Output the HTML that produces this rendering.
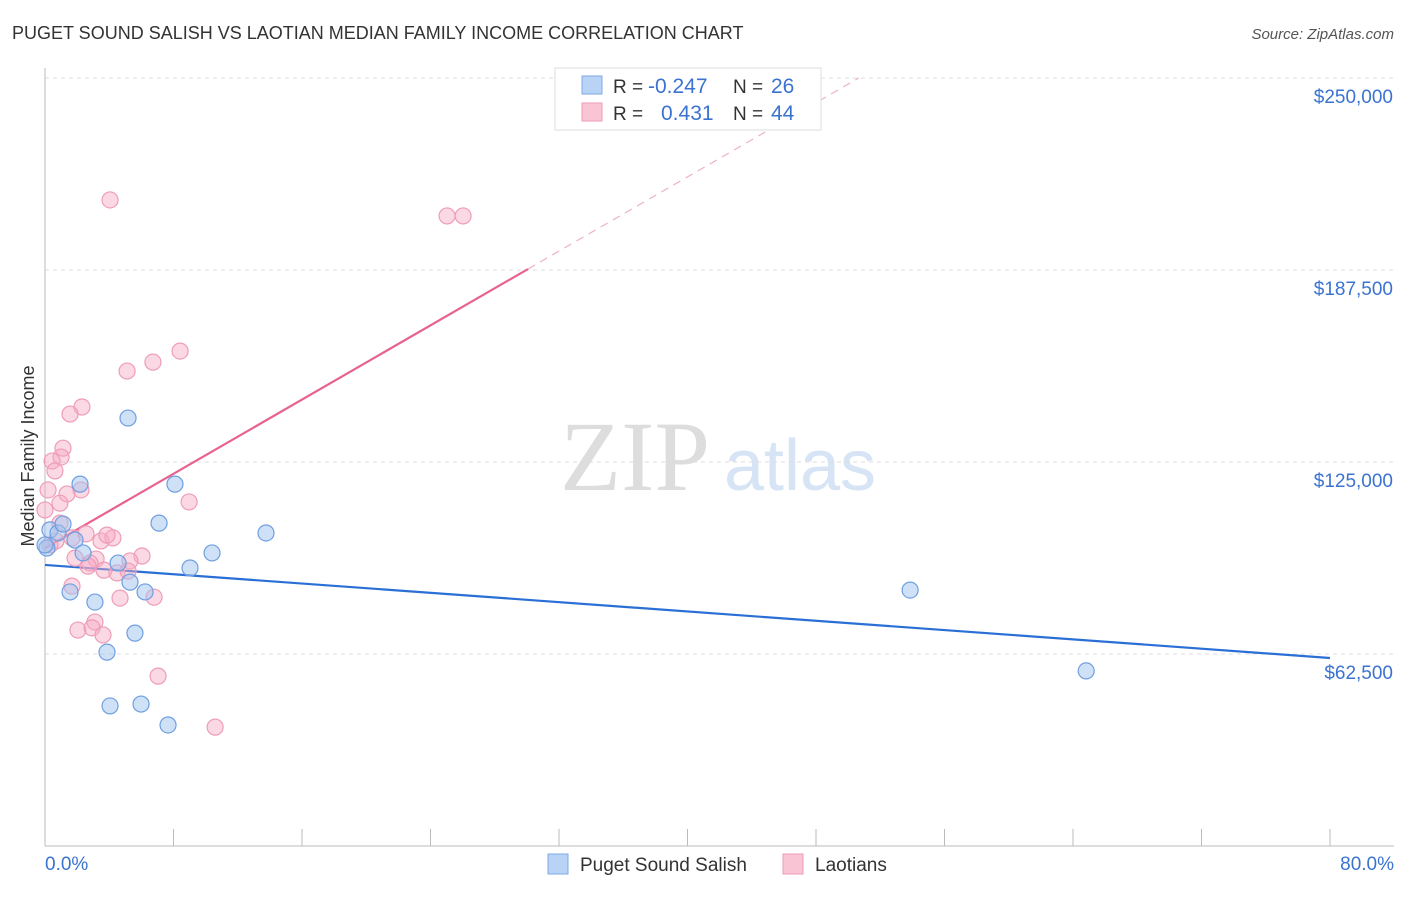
<!DOCTYPE html>
<html><head><meta charset="utf-8">
<style>
body{margin:0;background:#fff;font-family:"Liberation Sans",sans-serif;}
svg text{font-family:"Liberation Sans",sans-serif;}
</style></head>
<body>
<svg id="chart" width="1406" height="892" xmlns="http://www.w3.org/2000/svg">
<text x="12" y="39" font-size="18" fill="#333">PUGET SOUND SALISH VS LAOTIAN MEDIAN FAMILY INCOME CORRELATION CHART</text>
<text x="1394" y="39" font-size="15" fill="#555" text-anchor="end" font-style="italic">Source: ZipAtlas.com</text>
<text transform="translate(34,456) rotate(-90)" font-size="18" fill="#333" text-anchor="middle">Median Family Income</text>
<g>
<text x="635" y="490" font-size="100" fill="#ddd" style="font-family:'Liberation Serif',serif" text-anchor="middle">ZIP</text>
<text x="800" y="490" font-size="72" fill="#d6e4f5" text-anchor="middle">atlas</text>
</g>
<g id="grid"></g><g id="axes"></g><g id="lines"></g><g id="pts"></g>
<g>
<rect x="555" y="68" width="266" height="62" fill="#fff" stroke="#ddd"/>
<rect x="582" y="76" width="20" height="18" fill="#b8d3f5" stroke="#7ea9e6"/>
<rect x="582" y="103" width="20" height="18" fill="#f9c5d5" stroke="#ee9ab4"/>
<text x="613" y="93" font-size="19" fill="#333">R =</text><text x="648" y="93" font-size="21" fill="#3b73d0">-0.247</text>
<text x="733" y="93" font-size="19" fill="#333">N =</text><text x="771" y="93" font-size="21" fill="#3b73d0">26</text>
<text x="613" y="120" font-size="19" fill="#333">R =</text><text x="661" y="120" font-size="21" fill="#3b73d0">0.431</text>
<text x="733" y="120" font-size="19" fill="#333">N =</text><text x="771" y="120" font-size="21" fill="#3b73d0">44</text>
</g>
<g>
<rect x="548" y="854" width="20" height="20" fill="#b8d3f5" stroke="#7ea9e6"/>
<text x="580" y="871" font-size="19" fill="#333">Puget Sound Salish</text>
<rect x="783" y="854" width="20" height="20" fill="#f9c5d5" stroke="#ee9ab4"/>
<text x="815" y="871" font-size="19" fill="#333">Laotians</text>
</g>
</svg>
<script>
const yTicks=[62500,125000,187500,250000];
const yTickLabels=["$62,500","$125,000","$187,500","$250,000"];
const blueX=[0.12,0.31,0.81,1.12,1.56,1.87,2.18,2.37,3.11,3.86,4.05,4.55,5.17,5.29,5.60,5.98,6.23,7.10,7.66,8.09,9.03,10.40,13.76,53.86,64.82,0];
const blueY=[97.0,102.9,101.9,104.8,82.7,99.6,117.8,95.4,79.4,63.1,45.6,92.1,139.3,85.9,69.3,46.2,82.7,105.1,39.4,117.8,90.5,95.4,101.9,83.3,57.0,98.0];
const pinkX=[4.05,25.03,26.03,8.41,6.72,5.11,2.30,1.56,1.12,1.00,0.44,0.62,0.19,2.24,1.37,0.93,8.97,1.68,2.55,3.49,0.68,4.23,3.86,6.04,5.29,3.18,2.80,2.68,3.67,4.48,5.17,1.68,4.67,6.79,2.05,3.11,2.93,3.61,7.04,10.59,0,0.31,1.87,0.93];
const pinkY=[210.3,205.1,205.1,161.1,157.5,154.6,142.9,140.6,129.5,126.6,125.3,122.1,115.9,115.9,114.6,111.6,112.0,100.3,101.6,99.3,99.3,100.3,101.2,94.4,92.8,93.4,92.1,91.1,89.8,88.9,89.5,84.6,80.7,81.0,70.3,72.9,71.0,68.7,55.3,38.7,109.4,98.0,93.7,105.1];
const blueTrend=[91.5,61.2];
const pinkTrend=[97.0,3.02];
const pinkSolidEnd=30.07;
const NS="http://www.w3.org/2000/svg";
const X=p=>45+p*(1285/80);
const Y=v=>846-v/62500*192;
const Yk=k=>Y(k*1000);
function mk(tag,attrs,parent){const e=document.createElementNS(NS,tag);for(const k in attrs)e.setAttribute(k,attrs[k]);document.getElementById(parent).appendChild(e);return e;}
yTicks.forEach((t,i)=>{
  const l=mk('line',{x1:45,x2:1394,y1:Y(t),y2:Y(t),stroke:'#ddd','stroke-dasharray':'4,4'},'grid');
  
  
  const tx=mk('text',{x:1393,y:Y(t)+25,'font-size':19,fill:'#3b73d0','text-anchor':'end'},'grid');
  tx.textContent=yTickLabels[i];
  
  
});
const ax=mk('line',{x1:45,x2:45,y1:68,y2:846,stroke:'#bbb'},'axes');


const bx=mk('line',{x1:45,x2:1394,y1:846,y2:846,stroke:'#bbb'},'axes');


for(let i=0;i<=10;i++){
  const t=mk('line',{x1:X(i*8),x2:X(i*8),y1:829,y2:846,stroke:'#bbb'},'axes');
  
  
}
const xl=mk('text',{x:45,y:870,'font-size':19,fill:'#3b73d0'},'axes');xl.textContent='0.0%';


const xr=mk('text',{x:1394,y:870,'font-size':19,fill:'#3b73d0','text-anchor':'end'},'axes');xr.textContent='80.0%';


const bl=mk('line',{x1:X(0),x2:X(80),y1:Yk(blueTrend[0]),y2:Yk(blueTrend[1]),stroke:'#2a6fd6','stroke-width':2.2},'lines');


const pe=(250-pinkTrend[0])/pinkTrend[1];
const pl=mk('line',{x1:X(0),x2:X(pinkSolidEnd),y1:Yk(pinkTrend[0]),y2:Yk(pinkTrend[0]+pinkTrend[1]*pinkSolidEnd),stroke:'#e8628f','stroke-width':2.2},'lines');


const pd=mk('line',{x1:X(pinkSolidEnd),x2:X(pe),y1:Yk(pinkTrend[0]+pinkTrend[1]*pinkSolidEnd),y2:Yk(250),stroke:'#eeb0c4','stroke-width':1.2,'stroke-dasharray':'8,6'},'lines');


pinkX.forEach((x,i)=>{
  const c=mk('circle',{cx:X(x),cy:Yk(pinkY[i]),r:8,fill:'rgba(246,170,195,0.45)',stroke:'#ef9cb8','stroke-width':1.2},'pts');
  
  
});
blueX.forEach((x,i)=>{
  const c=mk('circle',{cx:X(x),cy:Yk(blueY[i]),r:8,fill:'rgba(160,196,240,0.5)',stroke:'#6f9fe0','stroke-width':1.2},'pts');
  
  
});
</script>
</body></html>
